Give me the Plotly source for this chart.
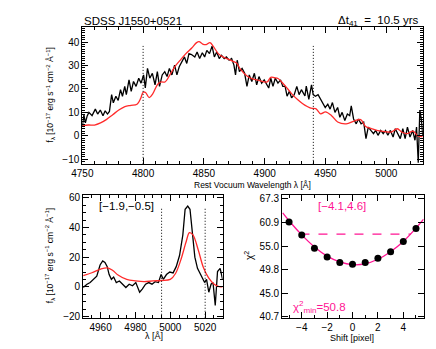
import plotly.graph_objects as go

# ---------------- data ----------------
lam_top = [4750.0, 4751.3, 4752.5, 4754.0, 4755.4, 4758.0, 4760.7, 4762.6, 4764.8, 4767.0, 4768.8, 4770.7,
           4772.3, 4774.1, 4775.5, 4777.6, 4779.5, 4781.4, 4783.0, 4784.9, 4786.2, 4788.4, 4790.2, 4792.1,
           4794.2, 4796.4, 4798.3, 4800.4, 4801.8, 4803.6, 4805.5, 4807.6, 4809.8, 4811.7, 4813.5, 4815.7,
           4817.8, 4819.7, 4821.6, 4823.7, 4825.9, 4827.8, 4829.7, 4831.8, 4834.0, 4835.9, 4837.7, 4839.8,
           4842.5, 4844.4, 4846.5, 4848.7, 4850.6, 4852.4, 4854.6, 4856.7, 4858.6, 4860.5, 4862.6, 4864.5,
           4866.7, 4868.5, 4870.7, 4872.8, 4874.7, 4876.0, 4877.4, 4879.2, 4881.4, 4883.5, 4885.4, 4887.3,
           4889.4, 4891.5, 4893.4, 4895.3, 4897.5, 4899.6, 4901.5, 4903.3, 4905.0, 4906.8, 4908.7, 4910.9,
           4913.0, 4914.9, 4916.8, 4918.4, 4920.3, 4922.1, 4924.3, 4926.4, 4928.3, 4930.2, 4933.1, 4934.2,
           4936.3, 4938.5, 4939.9, 4941.7, 4943.9, 4945.8, 4947.6, 4949.8, 4951.9, 4953.8, 4955.7, 4957.8,
           4960.0, 4961.8, 4963.7, 4965.9, 4968.0, 4969.9, 4971.2, 4973.1, 4975.3, 4977.1, 4979.3, 4981.4,
           4983.3, 4985.2, 4987.3, 4989.5, 4991.3, 4993.2, 4995.4, 4997.5, 4999.4, 5001.3, 5003.4, 5005.6,
           5007.4, 5009.3, 5011.5, 5013.6, 5015.5, 5017.4, 5019.5, 5021.7, 5023.6, 5024.9, 5026.3, 5027.6,
           5029.0, 5030.0]
flux_top = [4.0, 9.0, 5.5, 8.5, 10.0, 8.6, 11.4, 9.3, 11.0, 8.6, 10.7, 9.3,
            10.4, 17.6, 14.1, 16.9, 15.1, 19.7, 16.9, 21.1, 17.6, 23.9, 19.0, 23.2,
            21.1, 24.6, 22.5, 26.0, 20.5, 28.8, 24.6, 26.7, 21.8, 27.4, 21.1, 26.0,
            27.4, 25.3, 28.8, 26.0, 30.2, 26.0, 29.5, 31.6, 33.7, 30.9, 35.1, 34.7,
            33.7, 35.8, 33.0, 35.5, 33.7, 36.5, 35.1, 38.3, 33.7, 35.8, 33.0, 34.4,
            33.0, 33.7, 32.3, 33.0, 30.2, 26.0, 32.3, 27.4, 28.8, 26.7, 21.1, 26.0,
            23.2, 26.7, 21.8, 25.3, 22.5, 23.9, 21.8, 20.4, 24.6, 21.1, 24.6, 22.5,
            23.9, 21.1, 21.1, 16.9, 19.0, 16.2, 17.6, 21.1, 17.6, 19.7, 17.0, 21.2,
            15.6, 21.8, 17.6, 16.9, 17.6, 15.6, 14.2, 12.1, 13.5, 11.4, 14.2, 10.0,
            12.1, 7.9, 10.0, 6.5, 9.3, 8.6, 12.8, 7.2, 5.1, 7.2, 5.1, 5.8,
            -1.2, 3.7, 2.3, 0.9, 2.3, 0.2, 2.3, 0.9, 2.3, 0.2, 2.3, -0.5,
            3.0, 0.9, -1.2, 3.0, -1.2, 3.7, -0.5, 2.3, -1.9, 3.7, -11.5, 11.0,
            6.5, 0.0]

lam_top_model = [4750, 4755, 4760, 4765, 4770, 4775, 4780, 4785, 4790, 4795, 4798, 4800, 4802, 4805,
                 4808, 4812, 4815, 4818, 4822, 4826, 4830, 4835, 4840, 4844, 4846, 4849, 4852, 4855,
                 4858, 4862, 4866, 4870, 4874, 4877, 4880, 4886, 4890, 4895, 4902, 4905, 4908, 4911,
                 4914, 4919, 4923, 4927, 4931, 4935, 4938, 4942, 4946, 4950, 4955, 4960, 4967, 4974,
                 4979, 4983, 4988, 4993, 5000, 5004, 5009, 5013, 5017, 5022, 5026, 5030]
flux_top_model = [4.3, 4.6, 4.6, 5.5, 7.0, 9.0, 11.0, 12.5, 13.0, 13.5, 16.0, 18.6, 18.5, 16.3,
                  18.0, 22.0, 23.0, 23.0, 26.0, 29.5, 32.0, 35.0, 37.5, 39.8, 40.2, 39.2, 39.0, 39.8,
                  38.0, 35.0, 33.6, 32.8, 31.8, 31.0, 28.5, 25.3, 24.3, 23.7, 23.0, 25.0, 24.8, 24.5,
                  23.0, 20.0, 17.5, 15.5, 13.8, 12.5, 11.8, 11.6, 9.4, 10.2, 8.6, 5.9, 5.1, 6.4,
                  6.9, 4.0, 3.0, 2.2, 1.7, 1.6, 3.0, 1.5, 0.9, 2.0, 0.0, -0.3]

lam_bl = [4950.0, 4952.2, 4954.0, 4956.0, 4957.8, 4959.7, 4961.2, 4962.5, 4963.8, 4964.9, 4966.2, 4967.5,
          4969.0, 4970.8, 4972.7, 4974.5, 4976.4, 4978.3, 4980.2, 4982.4, 4983.9, 4985.8, 4987.6, 4989.5,
          4991.3, 4993.2, 4994.7, 4996.0, 4997.8, 4999.7, 5001.6, 5003.4, 5005.3, 5007.2, 5008.5, 5010.0,
          5011.3, 5012.8, 5014.1, 5015.6, 5017.5, 5019.7, 5020.8, 5022.1, 5023.4, 5024.5, 5025.8, 5027.1,
          5028.6, 5030.0]
flux_bl = [-0.4, 1.8, 2.9, 5.0, 7.2, 14.7, 17.5, 16.4, 13.6, 8.3, 5.1, 6.6,
           2.9, 4.0, 1.8, -0.4, 1.8, 0.7, 2.9, -3.6, -1.5, 1.8, 2.9, 1.8,
           3.5, 2.9, 8.3, 5.1, 8.3, 10.0, 9.4, 13.6, 21.1, 35.0, 52.2, 54.4,
           52.2, 34.0, 20.0, 12.5, 8.3, 2.9, 5.1, -3.6, 1.8, 2.9, -12.5, 10.3,
           12.5, 5.0]

lam_bl_model = [4950, 4955, 4960, 4964, 4967, 4970, 4975, 4980, 4985, 4990, 4995, 5000, 5003, 5006,
                5009, 5011, 5013, 5016, 5019, 5022, 5025, 5028, 5030]
flux_bl_model = [7.5, 9.5, 12.0, 12.8, 11.0, 8.0, 5.0, 4.0, 3.5, 4.0, 4.3, 5.0, 9.0, 18.0,
                 30.0, 36.5, 35.0, 25.0, 13.0, 6.0, 2.0, 0.2, 0.0]

shift_pix = [-5, -4, -3, -2, -1, 0, 1, 2, 3, 4, 5]
chi2_vals = [61.0, 57.7, 54.5, 52.5, 51.3, 50.9, 51.3, 52.2, 53.7, 56.1, 59.3]

shift_fit = [-5.5, -5, -4, -3, -2, -1, 0, 1, 2, 3, 4, 5, 5.6]
chi2_fit = [63.4, 61.3, 57.7, 54.8, 52.7, 51.4, 50.8, 51.0, 52.0, 53.7, 56.1, 59.4, 61.7]

shift_interval = [-4.1, 4.6]
chi2_level = [57.9, 57.9]
chi2_min = 50.8

top_marks = [4800, 4940]
bl_marks = [4995, 5020]

chi2_ticks = [40.7, 45.0, 49.8, 55.0, 60.9, 67.3]

# ---------------- figure ----------------
PINK = '#FF1493'
FONT = 'Liberation Sans, Arial, sans-serif'
fig = go.Figure()

fig.add_trace(go.Scatter(x=lam_top, y=flux_top, mode='lines', line=dict(color='black', width=1.3),
                         xaxis='x', yaxis='y', showlegend=False))
fig.add_trace(go.Scatter(x=lam_top_model, y=flux_top_model, mode='lines', line=dict(color='#FF2A2A', width=1.3, shape='spline'),
                         xaxis='x', yaxis='y', showlegend=False))
fig.add_trace(go.Scatter(x=lam_bl, y=flux_bl, mode='lines', line=dict(color='black', width=1.3),
                         xaxis='x2', yaxis='y2', showlegend=False))
fig.add_trace(go.Scatter(x=lam_bl_model, y=flux_bl_model, mode='lines', line=dict(color='#FF2A2A', width=1.3, shape='spline'),
                         xaxis='x2', yaxis='y2', showlegend=False))
fig.add_trace(go.Scatter(x=shift_fit, y=chi2_fit, mode='lines', line=dict(color=PINK, width=1.3, shape='spline'),
                         xaxis='x3', yaxis='y3', showlegend=False))
fig.add_trace(go.Scatter(x=shift_interval, y=chi2_level, mode='lines', line=dict(color=PINK, width=1.3, dash='dash'),
                         xaxis='x3', yaxis='y3', showlegend=False))
fig.add_trace(go.Scatter(x=shift_pix, y=chi2_vals, mode='markers', marker=dict(color='black', size=7),
                         xaxis='x3', yaxis='y3', showlegend=False))

for m in top_marks:
    fig.add_shape(type='line', xref='x', yref='y domain', x0=m, x1=m, y0=0, y1=0.86,
                  line=dict(color='black', width=1, dash='1px,2px'))
for m in bl_marks:
    fig.add_shape(type='line', xref='x2', yref='y2 domain', x0=m, x1=m, y0=0, y1=0.9,
                  line=dict(color='black', width=1, dash='1px,2px'))

ax_common = dict(showline=True, linecolor='black', linewidth=1, mirror='allticks', ticks='inside',
                 ticklen=6, tickcolor='black', showgrid=False, zeroline=False,
                 tickfont=dict(family=FONT, size=10, color='black'))

fig.update_layout(
    width=436, height=349, margin=dict(l=0, r=0, t=0, b=0),
    paper_bgcolor='white', plot_bgcolor='white',
    xaxis=dict(domain=[0.149, 0.950], range=[4750, 5030], dtick=50, anchor='y',
               minor=dict(dtick=10, ticklen=3, ticks='inside', tickcolor='black'), **ax_common),
    yaxis=dict(domain=[0.553, 0.954], range=[-12, 46.6], dtick=10, anchor='x',
               minor=dict(dtick=1, ticklen=3, ticks='inside', tickcolor='black'), **ax_common),
    xaxis2=dict(domain=[0.151, 0.479], range=[4950, 5030], dtick=20, anchor='y2',
                minor=dict(dtick=5, ticklen=3, ticks='inside', tickcolor='black'), **ax_common),
    yaxis2=dict(domain=[0.103, 0.461], range=[-20.8, 61.6], dtick=20, anchor='x2',
                minor=dict(dtick=5, ticklen=3, ticks='inside', tickcolor='black'), **ax_common),
    xaxis3=dict(domain=[0.619, 0.952], range=[-5.55, 5.6], dtick=2, anchor='y3',
                minor=dict(dtick=1, ticklen=3, ticks='inside', tickcolor='black'), **ax_common),
    yaxis3=dict(domain=[0.103, 0.461], type='log', range=[1.6072, 1.8347], anchor='x3',
                tickvals=chi2_ticks, ticktext=['%.1f' % v for v in chi2_ticks], **ax_common),
)

def ann(text, x, y, size=9, color='black', angle=0, xanchor='center', yanchor='middle'):
    fig.add_annotation(text=text, x=x, y=y, xref='paper', yref='paper', showarrow=False,
                       font=dict(family=FONT, size=size, color=color), textangle=angle,
                       xanchor=xanchor, yanchor=yanchor)

H, W = 349.0, 436.0
ann('SDSS J1550+0521', 65 / W, 1 - 10 / H, size=11.5, xanchor='left')
ann('Δt<sub>41</sub>  =  10.5 yrs', 411 / W, 1 - 10 / H, size=11.5, xanchor='right')
ann('Rest Vocuum Wavelength λ [Å]', 240 / W, 1 - 178 / H, size=8.5)
ann('f<sub>λ</sub> [10<sup>−17</sup> erg s<sup>−1</sup> cm<sup>−2</sup> Å<sup>−1</sup>]', 32 / W, 1 - 86 / H, size=8.5, angle=-90)
ann('f<sub>λ</sub> [10<sup>−17</sup> erg s<sup>−1</sup> cm<sup>−2</sup> Å<sup>−1</sup>]', 32 / W, 1 - 250 / H, size=8.5, angle=-90)
ann('λ [Å]', 138 / W, 1 - 332 / H, size=9)
ann('Shift [pixel]', 342 / W, 1 - 334 / H, size=9)
ann('χ<sup>2</sup>', 236 / W, 1 - 250 / H, size=10, angle=-90)
ann('[−1.9,−0.5]', 110 / W, 1 - 199 / H, size=11.5)
ann('[−4.1,4.6]', 331 / W, 1 - 199 / H, size=11.5, color=PINK)
ann('χ<sup>2</sup><sub>min</sub>=%.1f' % chi2_min, 279 / W, 1 - 302 / H, size=11.5, color=PINK, xanchor='left')

fig.write_html('out.html')
